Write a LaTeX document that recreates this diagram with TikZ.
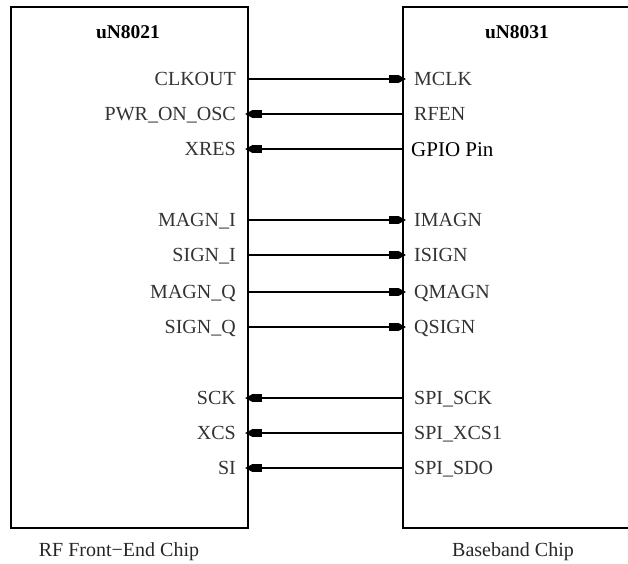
\documentclass[tikz,border=0pt]{standalone}
\usepackage{fontspec}
\setmainfont{Liberation Serif}
\usetikzlibrary{arrows.meta}

\tikzset{
        chip/.style={draw, line width=1.5pt, anchor=north west, inner sep=0pt,
                outer sep=0pt, minimum height=521pt},
        chipname/.style={font=\fontsize{19.5}{20}\selectfont\bfseries},
        pinleft/.style={anchor=east, inner sep=0pt, text=black!80,
                font=\fontsize{20}{20}\selectfont, text height=13pt, text depth=0pt},
        pinright/.style={pinleft, anchor=west},
        sig/.style={line width=1.4pt, shorten >=-3pt,
                -{Rectangle[length=9pt,width=8pt]Triangle[length=8pt,width=8pt]}},
        caption/.style={font=\fontsize{20}{20}\selectfont, text=black!85}
}

\begin{document}
\begin{tikzpicture}[x=1pt, y=-1pt]

        \useasboundingbox (0,0) rectangle (628,563);
        \clip (0,0) rectangle (628,563);

        \node[chip, minimum width=237pt] (rf) at (11,7) {};
        \node[chip, minimum width=260pt] (bb) at (403,7) {};

        \node[chipname] (rfname) at (128,32) {uN8021};
        \node[chipname] (bbname) at (517,32) {uN8031};

        % signals into the baseband chip
        \foreach \y/\l/\r in {79/CLKOUT/MCLK, 220/MAGN\_I/IMAGN, 255/SIGN\_I/ISIGN,
                292/MAGN\_Q/QMAGN, 327/SIGN\_Q/QSIGN}
        {
                \node[pinleft] (l\y) at (236,\y) {\l};
                \node[pinright] (r\y) at (414,\y) {\r};
                \draw[sig] (rf.east |- l\y) -- (bb.west |- r\y);
        }

        % signals into the RF chip
        \foreach \y/\l/\r in {114/PWR\_ON\_OSC/RFEN, 398/SCK/SPI\_SCK,
                433/XCS/SPI\_XCS1, 468/SI/SPI\_SDO}
        {
                \node[pinleft] (l\y) at (236,\y) {\l};
                \node[pinright] (r\y) at (414,\y) {\r};
                \draw[sig] (bb.west |- r\y) -- (rf.east |- l\y);
        }

        \node[pinleft] (l149) at (236,149) {XRES};
        \node[pinright, text=black, font=\fontsize{21}{21}\selectfont, text height=14pt]
                (r149) at (411,149) {GPIO Pin};
        \draw[sig] (bb.west |- r149) -- (rf.east |- l149);

        \node[caption] (rfcap) at (119,552) {RF Front−End Chip};
        \node[caption] (bbcap) at (513,552) {Baseband Chip};

\end{tikzpicture}
\end{document}
